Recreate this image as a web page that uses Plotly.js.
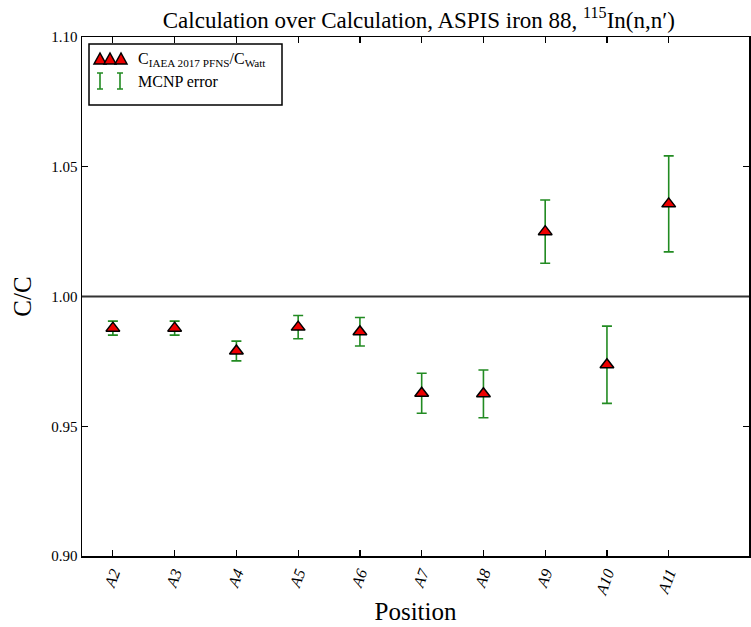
<!DOCTYPE html>
<html>
<head>
<meta charset="utf-8">
<script src="https://cdn.plot.ly/plotly-3.0.1.min.js"></script>
<style>html,body{margin:0;padding:0;background:#fff;}#chart{width:751px;height:627px;}</style>
</head>
<body>
<div id="chart"></div>
<script>
// Data
const positions = ["A2", "A3", "A4", "A5", "A6", "A7", "A8", "A9", "A10", "A11"];
const ratio = [0.9878, 0.9878, 0.9790, 0.9882, 0.9864, 0.9627, 0.9625, 1.0250, 0.9737, 1.0357];
const mcnpError = [0.0027, 0.0027, 0.0038, 0.0045, 0.0055, 0.0077, 0.0092, 0.0122, 0.0149, 0.0185];
const yTicks = [0.90, 0.95, 1.00, 1.05, 1.10];

const serif = "Liberation Serif";
const green = "#228b22";

const L = 82, R = 749, T = 37, B = 556;
const px = x => (x - L) / (R - L);
const py = y => (B - y) / (B - T);

const trace = {
  x: positions, y: ratio, type: "scatter", mode: "markers", showlegend: false,
  marker: {symbol: "triangle-up", size: 12, color: "#ee0000", line: {color: "#000", width: 1.5}},
  error_y: {type: "data", array: mcnpError, visible: true, color: green, thickness: 1.6, width: 5}
};

const shapes = [
  {type: "line", xref: "paper", yref: "y", x0: 0, x1: 1, y0: 1.0, y1: 1.0, line: {color: "#333", width: 2}},
  {type: "rect", xref: "paper", yref: "paper", x0: px(89), x1: px(282), y0: py(105), y1: py(44),
   line: {color: "#000", width: 1.5}, fillcolor: "#fff"}
];
[100, 110, 121].forEach(cx => {
  shapes.push({type: "path", xref: "paper", yref: "paper", xsizemode: "pixel", ysizemode: "pixel",
    xanchor: px(cx), yanchor: py(59),
    path: "M -6 -5 L 6 -5 L 0 6 Z", fillcolor: "#ee0000", line: {color: "#000", width: 1.5}});
});
[100, 120].forEach(cx => {
  shapes.push({type: "path", xref: "paper", yref: "paper", xsizemode: "pixel", ysizemode: "pixel",
    xanchor: px(cx), yanchor: py(81),
    path: "M 0 -8 L 0 8 M -3 8 L 3 8 M -3 -8 L 3 -8", line: {color: green, width: 1.6}});
});

const annotations = [
  {xref: "paper", yref: "paper", x: px(136), y: py(59), xanchor: "left", yanchor: "middle", showarrow: false,
   text: "C<sub>IAEA 2017 PFNS</sub>/C<sub>Watt</sub>", font: {family: serif, size: 16, color: "#000"}},
  {xref: "paper", yref: "paper", x: px(136), y: py(81), xanchor: "left", yanchor: "middle", showarrow: false,
   text: "MCNP error", font: {family: serif, size: 16, color: "#000"}}
];

const layout = {
  width: 751, height: 627,
  margin: {l: L, r: 751 - R, t: T, b: 627 - B},
  paper_bgcolor: "#fff", plot_bgcolor: "#fff",
  showlegend: false,
  font: {family: serif, color: "#000"},
  title: {text: "Calculation over Calculation, ASPIS iron 88, <sup>115</sup>In(n,n′)",
          font: {family: serif, size: 23, color: "#000"}, x: 0.505, xref: "paper", xanchor: "center",
          y: 1 - 20 / 627, yanchor: "middle"},
  xaxis: {
    type: "category", range: [-0.5, 10.3],
    showline: true, linecolor: "#000", linewidth: 1.5, mirror: "ticks",
    ticks: "inside", ticklen: 6, tickwidth: 1.2, tickcolor: "#000",
    showgrid: false, zeroline: false, tickangle: -70,
    tickfont: {family: serif, size: 16, color: "#000", style: "italic"},
    title: {text: "Position", font: {family: serif, size: 25, color: "#000"}, standoff: 6}
  },
  yaxis: {
    range: [0.90, 1.10],
    tickvals: yTicks, ticktext: yTicks.map(v => v.toFixed(2)),
    showline: true, linecolor: "#000", linewidth: 1.5, mirror: "ticks",
    ticks: "inside", ticklen: 6, tickwidth: 1.2, tickcolor: "#000",
    showgrid: false, zeroline: false,
    tickfont: {family: serif, size: 15, color: "#000"},
    title: {text: "C/C", font: {family: serif, size: 25, color: "#000"}, standoff: 12}
  },
  shapes: shapes,
  annotations: annotations
};

Plotly.newPlot("chart", [trace], layout, {displayModeBar: false, staticPlot: true});
</script>
</body>
</html>
